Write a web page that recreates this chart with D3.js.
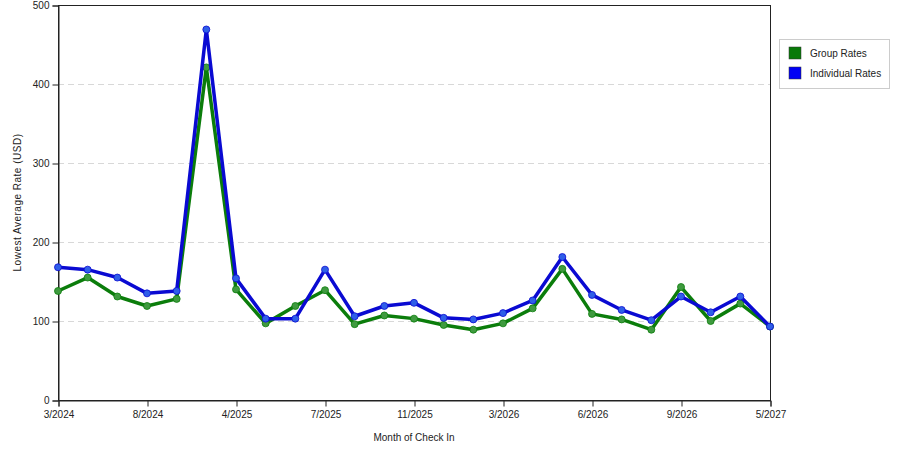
<!doctype html><html><head><meta charset="utf-8"></head><body style="margin:0;background:#fff">
<script src="https://d3js.org/d3.v7.min.js"></script>
<style>
  svg text {
    font-family: "Liberation Sans", Arial, sans-serif;
    font-size: 10px;
    fill: #222;
  }
</style>
<script>
  // categories (only every 3rd one is labelled on the axis)
  var months = ["3/2024", "5/2024", "6/2024", "8/2024", "10/2024", "12/2024", "4/2025", "5/2025", "6/2025",
    "7/2025", "8/2025", "10/2025", "11/2025", "12/2025", "2/2026", "3/2026", "4/2026", "5/2026",
    "6/2026", "7/2026", "8/2026", "9/2026", "10/2026", "12/2026", "5/2027"];
  var groupRates = [138, 155, 131, 119, 128, 421, 140, 97, 119, 139, 96, 107, 103, 95, 89, 97, 116,
    166, 109, 102, 89, 143, 100, 122, 93];
  var individualRates = [168, 165, 155, 135, 138, 469, 154, 103, 103, 165, 106, 119, 123, 104, 102, 110, 126,
    181, 133, 114, 101, 131, 111, 131, 93];
  var yTicks = [0, 100, 200, 300, 400, 500];
  var seriesNames = ["Group Rates", "Individual Rates"];
  var seriesColors = ["#0b7d0b", "#0a0ad2"];
  var dotColors = ["#3f9a3f", "#2f5ee8"];

  var width = 900, height = 450;
  var plotLeft = 58, plotRight = 770, plotTop = 5, plotBottom = 400;

  var svg = d3.select("body").append("svg")
    .attr("width", width)
    .attr("height", height);

  var x = d3.scalePoint().domain(months).range([plotLeft, plotRight]);
  var y = d3.scaleLinear().domain([0, 500]).range([plotBottom, plotTop]);

  // grid lines
  svg.append("g").selectAll("line")
    .data(yTicks.filter(function(d) { return d > 0 && d < 500; }))
    .enter().append("line")
    .attr("x1", plotLeft).attr("x2", plotRight)
    .attr("y1", function(d) { return y(d) + 0.5; })
    .attr("y2", function(d) { return y(d) + 0.5; })
    .attr("stroke", "#d8d8d8")
    .attr("stroke-dasharray", "6,4");

  // frame
  svg.append("rect")
    .attr("x", plotLeft + 0.5).attr("y", plotTop + 0.5)
    .attr("width", plotRight - plotLeft).attr("height", plotBottom - plotTop)
    .attr("fill", "none").attr("stroke", "#222");

  var xAxis = d3.axisBottom(x)
    .tickValues(months.filter(function(d, i) { return i % 3 == 0; }))
    .tickSize(6).tickPadding(4);
  var gx = svg.append("g").attr("transform", "translate(0.5," + (plotBottom + 0.5) + ")").call(xAxis);
  gx.attr("font-family", null).attr("font-size", null);
  gx.select(".domain").attr("stroke", "#222");
  gx.selectAll(".tick line").attr("stroke", "#222");

  var yAxis = d3.axisLeft(y).tickValues(yTicks).tickSize(6).tickPadding(3);
  var gy = svg.append("g").attr("transform", "translate(" + (plotLeft + 0.5) + ",0.5)").call(yAxis);
  gy.attr("font-family", null).attr("font-size", null);
  gy.select(".domain").attr("stroke", "#222");
  gy.selectAll(".tick line").attr("stroke", "#222");

  // axis titles
  svg.append("text")
    .attr("x", (plotLeft + plotRight) / 2).attr("y", 441)
    .attr("text-anchor", "middle")
    .text("Month of Check In");
  svg.append("text")
    .attr("transform", "translate(21," + ((plotTop + plotBottom) / 2) + ") rotate(-90)")
    .attr("text-anchor", "middle")
    .style("letter-spacing", "0.5px")
    .text("Lowest Average Rate (USD)");

  // lines and dots
  var series = [groupRates, individualRates];
  var line = d3.line()
    .x(function(d, i) { return x(months[i]); })
    .y(function(d) { return y(d); });

  series.forEach(function(vals, s) {
    svg.append("path")
      .datum(vals)
      .attr("d", line)
      .attr("fill", "none")
      .attr("stroke", seriesColors[s])
      .attr("stroke-width", 3.5)
      .attr("stroke-linejoin", "round");
    svg.append("g").selectAll("circle")
      .data(vals)
      .enter().append("circle")
      .attr("cx", function(d, i) { return x(months[i]); })
      .attr("cy", function(d) { return y(d); })
      .attr("r", 3.5)
      .attr("fill", dotColors[s])
      .attr("stroke", seriesColors[s])
      .attr("stroke-width", 0.8);
  });

  // legend
  var lg = svg.append("g");
  lg.append("rect")
    .attr("x", 779.5).attr("y", 39.5)
    .attr("width", 110).attr("height", 49)
    .attr("fill", "#fff").attr("stroke", "#ccc");
  var item = lg.selectAll("g.item").data(seriesNames).enter().append("g")
    .attr("transform", function(d, i) { return "translate(789," + (47 + i * 20) + ")"; });
  item.append("rect")
    .attr("width", 12).attr("height", 12)
    .attr("fill", function(d, i) { return i == 0 ? "#087a08" : "#0000f5"; })
    .attr("stroke", "#333").attr("stroke-width", 0.5);
  item.append("text")
    .attr("x", 21).attr("y", 10)
    .text(function(d) { return d; });
</script>
</body></html>
